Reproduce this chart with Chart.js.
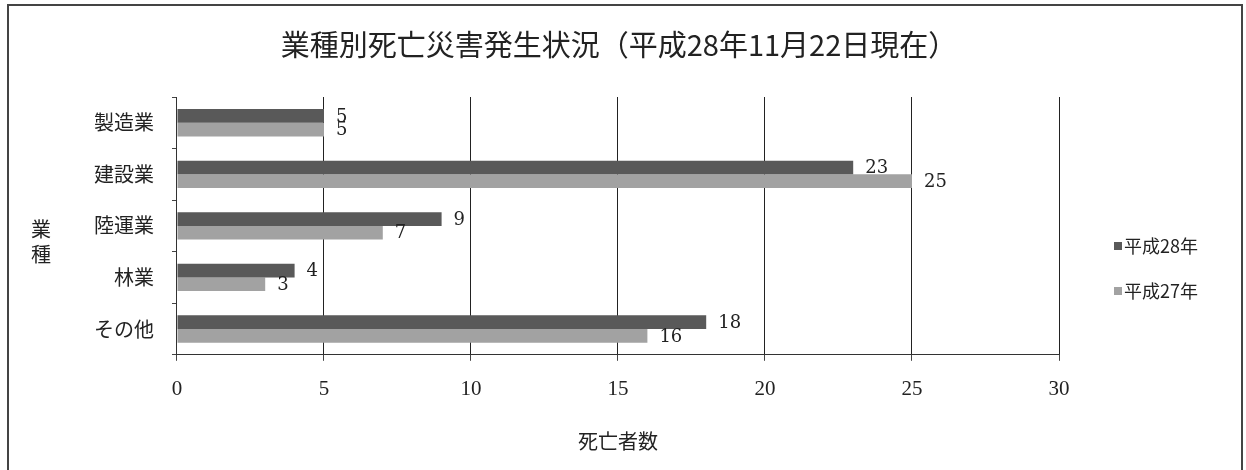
<!DOCTYPE html>
<html lang="ja">
<head>
<meta charset="utf-8">
<script src="https://cdn.jsdelivr.net/npm/chart.js@4.4.1/dist/chart.umd.min.js"></script>
<style>
  html, body { margin: 0; padding: 0; background: #fff; }
  #wrap { position: relative; width: 1246px; height: 470px; }
  canvas { display: block; }
</style>
</head>
<body>
<div id="wrap"><canvas id="c" width="1246" height="470"></canvas></div>
<script>
// 業種別死亡災害発生状況
const chartTitle = '業種別死亡災害発生状況（平成28年11月22日現在）';
const categories = ['製造業', '建設業', '陸運業', '林業', 'その他'];
const seriesH28 = [5, 23, 9, 4, 18];
const seriesH27 = [5, 25, 7, 3, 16];
const seriesNames = ['平成28年', '平成27年'];
const xTicks = [0, 5, 10, 15, 20, 25, 30];

const GOTHIC = '"Noto Sans CJK JP", "Noto Sans", sans-serif';

// frame and heading
const framePlugin = {
  id: 'frame',
  beforeDraw(chart) {
    const ctx = chart.ctx;
    ctx.save();
    ctx.fillStyle = '#fff';
    ctx.fillRect(0, 0, chart.width, chart.height);
    ctx.strokeStyle = '#444';
    ctx.lineWidth = 2;
    ctx.beginPath();
    ctx.moveTo(8, 475);
    ctx.lineTo(8, 5);
    ctx.lineTo(1242, 5);
    ctx.lineTo(1242, 475);
    ctx.stroke();

    ctx.font = '29px ' + GOTHIC;
    ctx.fillStyle = '#222';
    ctx.textAlign = 'center';
    ctx.textBaseline = 'middle';
    ctx.fillText(chartTitle, 619, 45);
    ctx.restore();
  }
};

// value labels at the end of each bar
const valueLabels = {
  id: 'valueLabels',
  afterDatasetsDraw(chart) {
    const ctx = chart.ctx;
    ctx.save();
    ctx.font = '18px "DejaVu Serif", serif';
    ctx.fillStyle = '#222';
    ctx.textAlign = 'left';
    ctx.textBaseline = 'middle';
    chart.data.datasets.forEach((ds, i) => {
      chart.getDatasetMeta(i).data.forEach((bar, j) => {
        ctx.fillText(String(ds.data[j]), bar.x + 12, bar.y + 1);
      });
    });
    ctx.restore();
  }
};

// stacked vertical y-axis title and side legend
const sideText = {
  id: 'sideText',
  afterDraw(chart) {
    const ctx = chart.ctx;
    const area = chart.chartArea;
    ctx.save();
    ctx.font = '20px ' + GOTHIC;
    ctx.fillStyle = '#222';
    ctx.textAlign = 'center';
    ctx.textBaseline = 'middle';
    const midY = (area.top + area.bottom) / 2;
    ctx.fillText('業', 41, midY + 4);
    ctx.fillText('種', 41, midY + 29);

    // legend
    ctx.font = '18px ' + GOTHIC;
    ctx.textAlign = 'left';
    const lx = 1114;
    const ys = [246, 291];
    chart.data.datasets.forEach((ds, i) => {
      ctx.fillStyle = ds.backgroundColor;
      ctx.fillRect(lx, ys[i] - 4, 8, 8);
      ctx.fillStyle = '#222';
      ctx.fillText(ds.label, lx + 10, ys[i]);
    });
    ctx.restore();
  }
};

new Chart(document.getElementById('c'), {
  type: 'bar',
  data: {
    labels: categories,
    datasets: [
      { label: seriesNames[0], data: seriesH28, backgroundColor: '#595959',
        categoryPercentage: 0.53, barPercentage: 1.0 },
      { label: seriesNames[1], data: seriesH27, backgroundColor: '#a2a2a2',
        categoryPercentage: 0.53, barPercentage: 1.0 }
    ]
  },
  options: {
    indexAxis: 'y',
    responsive: false,
    animation: false,
    layout: { padding: { left: 76, right: 187, top: 97, bottom: 17 } },
    plugins: {
      legend: { display: false },
      tooltip: { enabled: false },
      title: { display: false }
    },
    scales: {
      x: {
        min: 0,
        max: 30,
        afterBuildTicks(axis) { axis.ticks = xTicks.map(v => ({ value: v })); },
        grid: {
          color: '#222',
          lineWidth: 1,
          drawTicks: true,
          tickLength: 6,
          tickColor: '#444'
        },
        border: { display: true, color: '#333', width: 1 },
        ticks: {
          color: '#222',
          padding: 16,
          font: { family: '"Liberation Serif", serif', size: 21 }
        },
        title: {
          display: true,
          text: '死亡者数',
          color: '#222',
          font: { family: GOTHIC, size: 20 },
          padding: { top: 11, bottom: 0 }
        }
      },
      y: {
        grid: {
          offset: true,
          drawOnChartArea: false,
          drawTicks: true,
          tickLength: 5,
          tickColor: '#444'
        },
        border: { display: true, color: '#333', width: 1 },
        ticks: {
          color: '#222',
          padding: 18,
          font: { family: GOTHIC, size: 20 }
        }
      }
    }
  },
  plugins: [framePlugin, valueLabels, sideText]
});
</script>
</body>
</html>
